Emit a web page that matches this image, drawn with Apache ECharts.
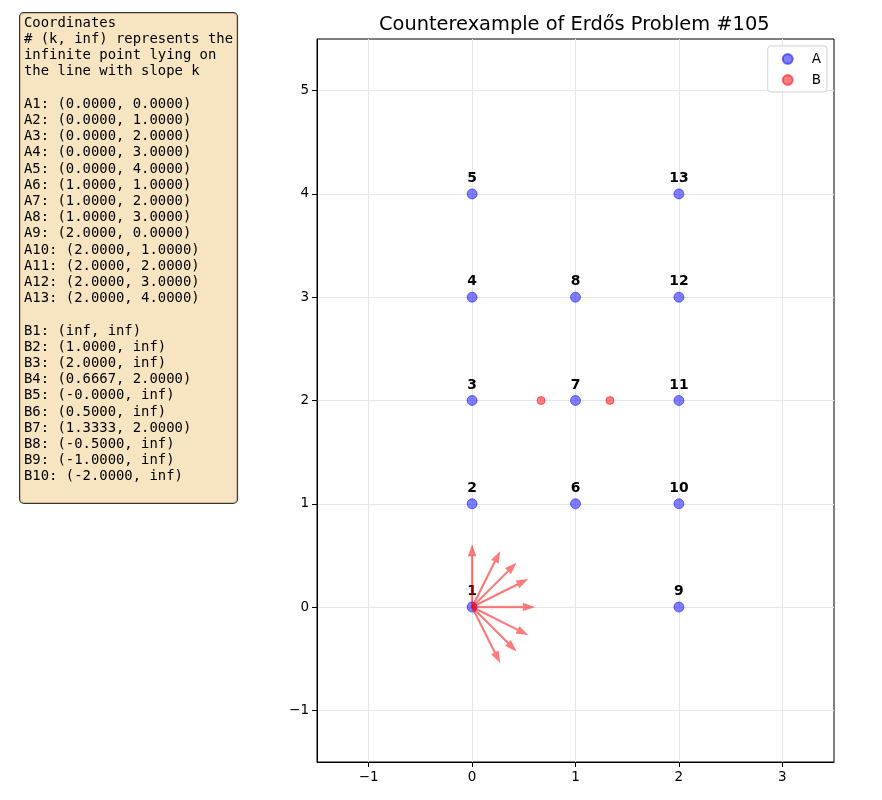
<!DOCTYPE html>
<html lang="en">
<head>
    <meta charset="UTF-8">
    <title>Counterexample of Erdős Problem #105</title>
    <script src="https://cdn.jsdelivr.net/npm/echarts@6/dist/echarts.min.js"></script>
    <style>
        html, body { margin: 0; padding: 0; background: #ffffff; }
    </style>
</head>
<body>
    <div id="chart" style="width: 882px; height: 800px;"></div>

    <script>
        // A points (finite)
        const aX = [0, 0, 0, 0, 0, 1, 1, 1, 2, 2, 2, 2, 2];
        const aY = [0, 1, 2, 3, 4, 1, 2, 3, 0, 1, 2, 3, 4];
        // B points: (k, inf) = infinite point on line with slope k
        const bX = [Infinity, 1, 2, 0.6667, -0, 0.5, 1.3333, -0.5, -1, -2];
        const bY = [Infinity, Infinity, Infinity, 2, Infinity, Infinity, 2, Infinity, Infinity, Infinity];
        const xTicks = [-1, 0, 1, 2, 3];
        const yTicks = [-1, 0, 1, 2, 3, 4, 5];
        const arrowLen = 0.6;

        const fmt = v => v === Infinity ? 'inf' : (Object.is(v, -0) ? '-' : '') + v.toFixed(4);
        const minus = v => String(v).replace('-', '\u2212');

        const aData = aX.map((x, i) => [x, aY[i]]);
        const bFinite = [];
        const arrows = [];
        bX.forEach((k, i) => {
            if (bY[i] !== Infinity) {
                bFinite.push([k, bY[i]]);
            } else if (k === Infinity) {
                arrows.push([0, arrowLen]);
            } else {
                const n = Math.sqrt(1 + k * k);
                arrows.push([arrowLen / n, arrowLen * k / n]);
            }
        });

        const lines = ['Coordinates', '# (k, inf) represents the', 'infinite point lying on', 'the line with slope k', ''];
        aX.forEach((x, i) => lines.push('A' + (i + 1) + ': (' + fmt(x) + ', ' + fmt(aY[i]) + ')'));
        lines.push('');
        bX.forEach((x, i) => lines.push('B' + (i + 1) + ': (' + fmt(x) + ', ' + fmt(bY[i]) + ')'));
        lines.push('');

        const font = 'DejaVu Sans';
        const chart = echarts.init(document.getElementById('chart'));

        const axisCommon = {
            type: 'value',
            axisLine: { show: true, onZero: false, lineStyle: { color: '#000', width: 1 } },
            axisTick: { show: true, inside: false, length: 5, lineStyle: { color: '#000' } },
            splitLine: { show: true, lineStyle: { color: '#e6e6e6', width: 1 } },
            axisLabel: { color: '#000', fontSize: 13.5, fontFamily: font, formatter: minus }
        };

        const option = {
            animation: false,
            title: {
                text: 'Counterexample of Erdős Problem #105',
                left: 379,
                top: 15,
                padding: 0,
                textStyle: { fontFamily: font, fontSize: 19.4, fontWeight: 'normal', color: '#000' }
            },
            grid: {
                left: 317, right: 48, top: 39, bottom: 38,
                show: true, borderColor: '#000', borderWidth: 1, backgroundColor: 'transparent'
            },
            legend: {
                orient: 'vertical',
                right: 55,
                top: 46,
                padding: [6, 6, 5, 14],
                itemGap: 7,
                itemWidth: 10,
                itemHeight: 10,
                icon: 'circle',
                borderColor: '#d0d0d0',
                borderWidth: 1,
                borderRadius: 3,
                backgroundColor: 'rgba(255,255,255,0.8)',
                textStyle: { fontFamily: font, fontSize: 13.5, color: '#000', padding: [0, 0, 0, 14] },
                data: ['A', 'B']
            },
            xAxis: Object.assign({}, axisCommon, {
                min: -1.5, max: 3.5,
                axisTick: Object.assign({}, axisCommon.axisTick, { customValues: xTicks }),
                axisLabel: Object.assign({}, axisCommon.axisLabel, { customValues: xTicks, margin: 8 })
            }),
            yAxis: Object.assign({}, axisCommon, {
                min: -1.5, max: 5.5,
                axisTick: Object.assign({}, axisCommon.axisTick, { customValues: yTicks }),
                axisLabel: Object.assign({}, axisCommon.axisLabel, { customValues: yTicks, margin: 8 })
            }),
            graphic: [{
                type: 'text',
                left: 19,
                top: 12,
                z: 100,
                style: {
                    text: lines.join('\n'),
                    fontFamily: 'DejaVu Sans Mono',
                    fontSize: 13.9,
                    lineHeight: 16.2,
                    fill: '#000',
                    backgroundColor: 'rgba(245,222,179,0.8)',
                    borderColor: '#333',
                    borderWidth: 1,
                    borderRadius: 4,
                    padding: [2, 4, 2, 4]
                }
            }],
            series: [
                {
                    name: 'A',
                    type: 'scatter',
                    data: aData,
                    symbolSize: 10,
                    itemStyle: { color: 'rgba(0,0,255,0.5)', borderColor: 'rgba(0,0,255,0.5)', borderWidth: 1, opacity: 1 },
                    label: {
                        show: true,
                        position: 'top',
                        distance: 3,
                        formatter: p => String(p.dataIndex + 1),
                        fontFamily: font,
                        fontSize: 13.9,
                        fontWeight: 'bold',
                        color: '#000'
                    },
                    z: 3
                },
                {
                    name: 'B',
                    type: 'scatter',
                    data: bFinite,
                    symbolSize: 8,
                    itemStyle: { color: 'rgba(255,0,0,0.5)', borderColor: 'rgba(255,0,0,0.5)', borderWidth: 1, opacity: 1 },
                    z: 3
                },
                {
                    type: 'custom',
                    data: arrows,
                    z: 4,
                    silent: true,
                    renderItem: (params, api) => {
                        const o = api.coord([0, 0]);
                        const t = api.coord([api.value(0), api.value(1)]);
                        const dx = t[0] - o[0], dy = t[1] - o[1];
                        const L = Math.hypot(dx, dy);
                        const ux = dx / L, uy = dy / L;
                        const px = -uy, py = ux;
                        const hl = 11, hw = 3.8, sw = 0.8;
                        const bx = t[0] - ux * hl, by = t[1] - uy * hl;
                        const pts = [
                            [o[0] + px * sw, o[1] + py * sw],
                            [bx + px * sw, by + py * sw],
                            [bx + px * hw, by + py * hw],
                            [t[0], t[1]],
                            [bx - px * hw, by - py * hw],
                            [bx - px * sw, by - py * sw],
                            [o[0] - px * sw, o[1] - py * sw]
                        ];
                        return {
                            type: 'polygon',
                            shape: { points: pts },
                            style: { fill: 'rgba(255,0,0,0.5)', stroke: 'rgba(255,0,0,0.5)', lineWidth: 0.5 }
                        };
                    }
                }
            ]
        };

        chart.setOption(option);
    </script>
</body>
</html>
